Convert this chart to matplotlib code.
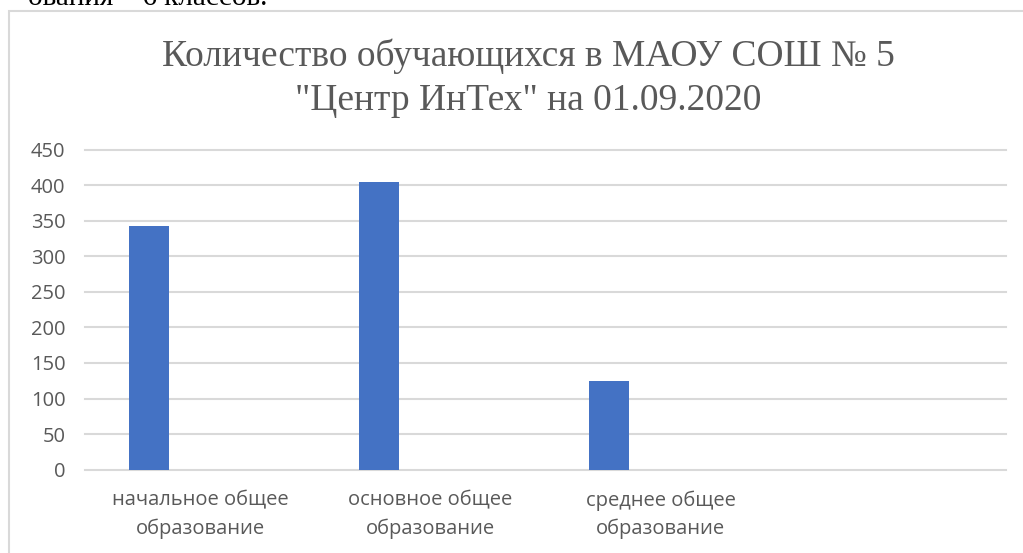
import numpy as np
import matplotlib.pyplot as plt
from matplotlib.patches import Rectangle

# данные
categories = ['начальное общее\nобразование', 'основное общее\nобразование',
              'среднее общее\nобразование', '']
values = [342, 404, 125, np.nan]
yticks = [0, 50, 100, 150, 200, 250, 300, 350, 400, 450]

title = 'Количество обучающихся в МАОУ СОШ № 5\n"Центр ИнТех" на 01.09.2020'
top_text = 'ования – 6 классов.'

W, H = 1023, 553
fig = plt.figure(figsize=(W / 100, H / 100), dpi=100)

gray = '#595959'
sans = 'Open Sans'
serif = 'Liberation Serif'

# рамка диаграммы
fig.patches.append(Rectangle((9 / W, -0.1), 1.2, 1 - 11 / H + 0.1, transform=fig.transFigure,
                             fill=False, edgecolor='#d9d9d9', linewidth=1.5))

# обрезанный текст документа сверху
fig.text(267 / W, 1 - 5 / H, top_text, ha='right', va='baseline',
         fontsize=21, family=serif, color='black')

ax = fig.add_axes([85 / W, 1 - 469.7 / H, (1006 - 85) / W, (469.7 - 149.5) / H])
x = np.arange(len(categories))
ax.bar(x - 0.224, values, width=0.174, color='#4472C4', zorder=3)

ax.set_xlim(-0.5, len(categories) - 0.5)
ax.set_ylim(0, 450)
ax.set_yticks(yticks)
ax.set_xticks(x)
ax.set_xticklabels(categories, fontsize=14.5, family=sans, color=gray, linespacing=1.5)
ax.tick_params(axis='x', length=0, pad=15)
ax.tick_params(axis='y', length=0, pad=14, labelsize=14.5, labelcolor=gray)
for lab in ax.get_yticklabels():
    lab.set_family(sans)

ax.grid(axis='y', color='#d9d9d9', linewidth=1.5, zorder=0, clip_on=False)
for gl in ax.get_ygridlines():
    gl.set_clip_on(False)
for s in ax.spines.values():
    s.set_visible(False)

fig.text(528 / W, 1 - 78 / H, title, ha='center', va='center', fontsize=27,
         family=serif, color=gray, linespacing=1.35)

fig.savefig('out.png', dpi=100)
